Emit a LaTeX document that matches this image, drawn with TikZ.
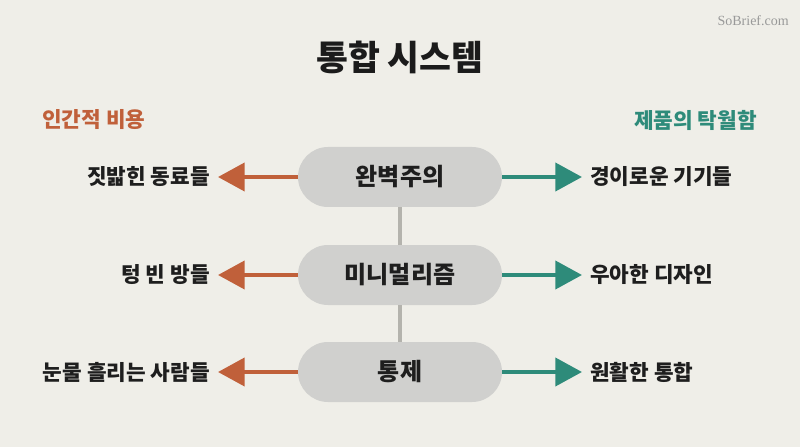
\documentclass[tikz,border=0pt]{standalone}
\usepackage{fontspec}
\setmainfont{Noto Sans CJK KR}
\newfontfamily\wmfont{Liberation Serif}
\usetikzlibrary{arrows.meta}
\definecolor{bgc}{HTML}{EFEEE8}
\definecolor{costc}{HTML}{C0603A}
\definecolor{goodc}{HTML}{2E8B7A}
\definecolor{pillc}{HTML}{D0D0CE}
\definecolor{linkc}{HTML}{B4B3AD}
\definecolor{txtc}{HTML}{1E1E1E}
\begin{document}
\begin{tikzpicture}[x=0.75pt,y=0.75pt,
  pill/.style={fill=pillc, rounded corners=22.5pt, minimum width=153pt, minimum height=45pt, inner sep=0pt, font=\fontsize{18}{21}\selectfont\bfseries, text=txtc},
  lab/.style={inner sep=0pt, font=\fontsize{16}{19}\selectfont\bfseries, text=txtc},
  head/.style={inner sep=0pt, font=\fontsize{16}{19}\selectfont\bfseries},
  costarrow/.style={draw=costc, line width=3pt, -{Triangle[length=20pt,width=21pt]}, shorten >=6pt},
  goodarrow/.style={draw=goodc, line width=3pt, -{Triangle[length=20pt,width=21pt]}, shorten >=6pt},
  link/.style={draw=linkc, line width=3pt}
]
\fill[bgc] (0,0) rectangle (800,447);
\useasboundingbox (0,0) rectangle (800,447);
\node[text=black!40, font=\wmfont\fontsize{10.5}{12}\selectfont, anchor=east, inner sep=0pt] (wm) at (789,426) {SoBrief.com};
\node[inner sep=0pt, font=\fontsize{26}{30}\selectfont\bfseries, text=txtc!90!black] (title) at (400,390) {통합 시스템};
\node[head, text=costc, anchor=west] (hc) at (42,327) {인간적 비용};
\node[head, text=goodc, anchor=east] (hg) at (757,327) {제품의 탁월함};
\node[pill] (p1) at (400,270) {완벽주의};
\node[pill] (p2) at (400,172) {미니멀리즘};
\node[pill] (p3) at (400,75) {통제};
\draw[link] (p1) -- (p2);
\draw[link] (p2) -- (p3);
\node[lab, anchor=east] (l1) at (210,270) {짓밟힌 동료들};
\node[lab, anchor=east] (l2) at (210,172) {텅 빈 방들};
\node[lab, anchor=east] (l3) at (210,75) {눈물 흘리는 사람들};
\node[lab, anchor=west] (r1) at (590,270) {경이로운 기기들};
\node[lab, anchor=west] (r2) at (590,172) {우아한 디자인};
\node[lab, anchor=west] (r3) at (590,75) {원활한 통합};
\draw[costarrow] (p1.west) -- (l1.east);
\draw[costarrow] (p2.west) -- (l2.east);
\draw[costarrow] (p3.west) -- (l3.east);
\draw[goodarrow] (p1.east) -- (r1.west);
\draw[goodarrow] (p2.east) -- (r2.west);
\draw[goodarrow] (p3.east) -- (r3.west);
\end{tikzpicture}
\end{document}
